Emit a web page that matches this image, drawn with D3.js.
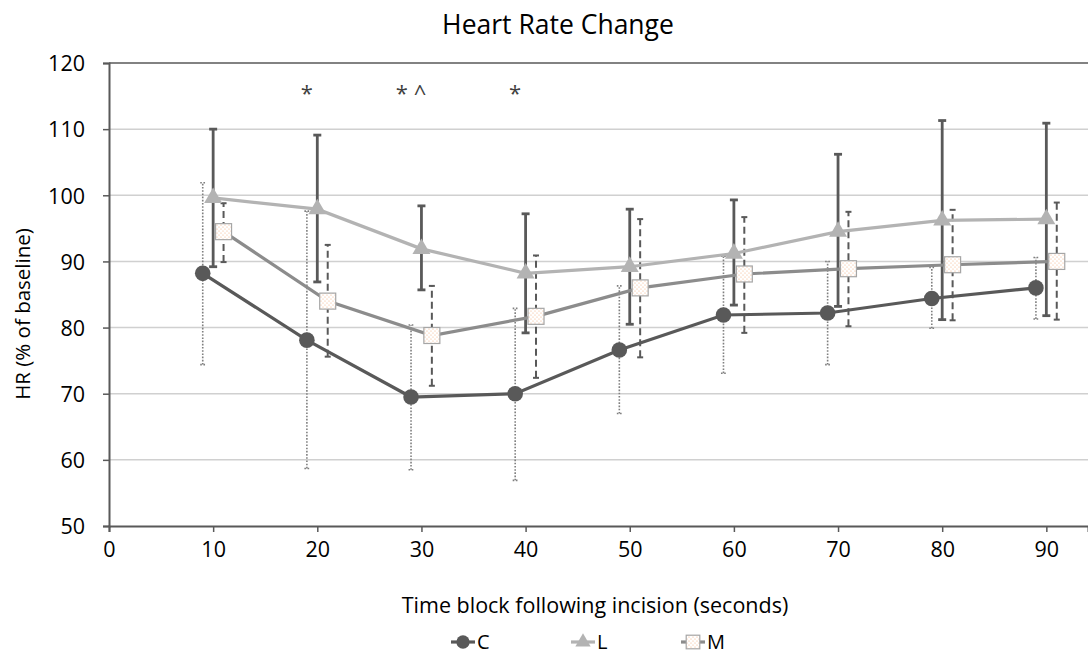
<!DOCTYPE html>
<html>
<head>
<meta charset="utf-8">
<script src="https://cdn.jsdelivr.net/npm/d3@7"></script>
<style>
  html, body { margin: 0; padding: 0; background: #fff; }
  svg { display: block; font-family: "Open Sans", "Noto Sans", sans-serif; }
</style>
</head>
<body>
<svg id="chart" width="1088" height="657"></svg>
<script>
// time blocks (seconds)
const blocks = [10, 20, 30, 40, 50, 60, 70, 80, 90];

// C group
const cMean = [88.2, 78.1, 69.5, 70.0, 76.6, 81.9, 82.2, 84.4, 86.0];
const cHigh = [101.9, 97.6, 80.4, 82.9, 86.3, 90.8, 90.0, 89.1, 90.6];
const cLow  = [74.4, 58.7, 58.5, 56.9, 67.0, 73.1, 74.4, 79.9, 81.3];

// L group
const lMean = [99.6, 97.9, 91.9, 88.2, 89.2, 91.2, 94.5, 96.2, 96.4];
const lHigh = [110.0, 109.1, 98.4, 97.2, 97.9, 99.3, 106.2, 111.3, 110.9];
const lLow  = [89.2, 86.9, 85.7, 79.2, 80.5, 83.4, 83.2, 81.2, 81.8];

// M group
const mMean = [94.5, 84.0, 78.8, 81.7, 86.0, 88.1, 88.9, 89.5, 90.0];
const mHigh = [98.8, 92.5, 86.3, 90.9, 96.4, 96.7, 97.5, 97.8, 98.9];
const mLow  = [89.9, 75.6, 71.2, 72.4, 75.5, 79.2, 80.2, 81.1, 81.2];

const xTicks = [0, 10, 20, 30, 40, 50, 60, 70, 80, 90];
const yTicks = [50, 60, 70, 80, 90, 100, 110, 120];

// significance marks above the blocks
const marks = [
  { x: 20, text: "*" },
  { x: 30, text: "* ^" },
  { x: 40, text: "*" }
];

const svg = d3.select("#chart");

const x = d3.scaleLinear().domain([0, 94]).range([109, 1088]);
const y = d3.scaleLinear().domain([50, 120]).range([526, 63]);

// dotted fill for the M squares
const defs = svg.append("defs");
const pat = defs.append("pattern")
  .attr("id", "dots")
  .attr("width", 4).attr("height", 4)
  .attr("patternUnits", "userSpaceOnUse");
pat.append("rect").attr("width", 4).attr("height", 4).attr("fill", "#fff");
pat.append("circle").attr("cx", 1).attr("cy", 1).attr("r", 0.6).attr("fill", "#f4b183");
pat.append("circle").attr("cx", 3).attr("cy", 3).attr("r", 0.6).attr("fill", "#f4b183");

// gridlines
svg.append("g")
  .selectAll("line")
  .data(yTicks.filter(d => d > 50 && d < 120))
  .join("line")
  .attr("x1", x(0)).attr("x2", 1088)
  .attr("y1", d => y(d)).attr("y2", d => y(d))
  .attr("stroke", "#d0d0d0").attr("stroke-width", 1.5);

// top border
svg.append("line")
  .attr("x1", x(0)).attr("x2", 1088)
  .attr("y1", y(120)).attr("y2", y(120))
  .attr("stroke", "#595959").attr("stroke-width", 1.5);

// axes
const xAxis = svg.append("g")
  .attr("transform", `translate(0,${y(50)})`)
  .call(d3.axisBottom(x).tickValues(xTicks).tickSize(6).tickPadding(10).tickFormat(d3.format("d")));
const yAxis = svg.append("g")
  .attr("transform", `translate(${x(0)},0)`)
  .call(d3.axisLeft(y).tickValues(yTicks).tickSize(6).tickPadding(18).tickFormat(d3.format("d")));

[xAxis, yAxis].forEach(g => {
  g.select(".domain").attr("stroke", "#595959").attr("stroke-width", 2);
  g.selectAll(".tick line").attr("stroke", "#595959").attr("stroke-width", 1.5);
  g.selectAll("text").attr("font-size", 21.5).attr("fill", "#000")
    .attr("font-family", "'Open Sans', sans-serif");
});
yAxis.selectAll("text").attr("dy", "0.36em");

const series = [
  { name: "C", mean: cMean, high: cHigh, low: cLow, dx: -1,
    line: "#595959", bar: "#7f7f7f", barWidth: 1.6, dash: "1.6,1.6", cap: 5 },
  { name: "L", mean: lMean, high: lHigh, low: lLow, dx: 0,
    line: "#b3b3b3", bar: "#595959", barWidth: 2.8, dash: null, cap: 8 },
  { name: "M", mean: mMean, high: mHigh, low: mLow, dx: 1,
    line: "#8c8c8c", bar: "#595959", barWidth: 2, dash: "7,4", cap: 6 }
];

// error bars
series.forEach(s => {
  const g = svg.append("g");
  blocks.forEach((b, i) => {
    const cx = x(b + s.dx);
    g.append("line")
      .attr("x1", cx).attr("x2", cx)
      .attr("y1", y(s.low[i])).attr("y2", y(s.high[i]))
      .attr("stroke", s.bar).attr("stroke-width", s.barWidth)
      .attr("stroke-dasharray", s.dash);
    [s.low[i], s.high[i]].forEach(v => {
      g.append("line")
        .attr("x1", cx - s.cap / 2).attr("x2", cx + s.cap / 2)
        .attr("y1", y(v)).attr("y2", y(v))
        .attr("stroke", s.bar).attr("stroke-width", s.barWidth)
        .attr("stroke-dasharray", s.name === "C" ? "1.6,1.6" : null);
    });
  });
});

// lines
const lineGen = (s) => d3.line()
  .x((d, i) => x(blocks[i] + s.dx))
  .y(d => y(d));

series.forEach(s => {
  svg.append("path")
    .datum(s.mean)
    .attr("d", lineGen(s))
    .attr("fill", "none")
    .attr("stroke", s.line)
    .attr("stroke-width", 3.2);
});

// markers
function drawMarker(g, name, cx, cy, scale) {
  if (name === "C") {
    g.append("circle").attr("cx", cx).attr("cy", cy).attr("r", 7.8 * scale)
      .attr("fill", "#595959");
  } else if (name === "L") {
    g.append("path")
      .attr("d", d3.symbol(d3.symbolTriangle, 140 * scale * scale)())
      .attr("transform", `translate(${cx},${cy})`)
      .attr("fill", "#b3b3b3");
  } else {
    const h = 8 * scale;
    g.append("rect").attr("x", cx - h).attr("y", cy - h)
      .attr("width", 2 * h).attr("height", 2 * h)
      .attr("fill", "url(#dots)").attr("stroke", "#a6a6a6").attr("stroke-width", 1.2);
  }
}

series.forEach(s => {
  const g = svg.append("g");
  s.mean.forEach((v, i) => drawMarker(g, s.name, x(blocks[i] + s.dx), y(v), 1));
});

// significance marks
svg.append("g")
  .selectAll("text")
  .data(marks)
  .join("text")
  .attr("x", d => x(d.x - 1))
  .attr("y", 101)
  .attr("text-anchor", "middle")
  .attr("font-size", 22)
  .attr("fill", "#404040")
  .text(d => d.text);

// title
svg.append("text")
  .attr("x", 558).attr("y", 34)
  .attr("text-anchor", "middle")
  .attr("font-size", 26.5)
  .attr("fill", "#000")
  .text("Heart Rate Change");

// axis titles
svg.append("text")
  .attr("x", 595).attr("y", 613)
  .attr("text-anchor", "middle")
  .attr("font-size", 21.5)
  .attr("fill", "#000")
  .text("Time block following incision (seconds)");

svg.append("text")
  .attr("transform", "translate(30,314) rotate(-90)")
  .attr("text-anchor", "middle")
  .attr("font-size", 20.5)
  .attr("fill", "#000")
  .text("HR (% of baseline)");

// legend
const legendX = [463, 583, 693];
const legend = svg.append("g");
series.forEach((s, i) => {
  const cx = legendX[i];
  const cy = 642;
  legend.append("line")
    .attr("x1", cx - 12).attr("x2", cx + 12)
    .attr("y1", cy).attr("y2", cy)
    .attr("stroke", s.line).attr("stroke-width", 3.2);
  drawMarker(legend, s.name, cx, cy, 0.85);
  legend.append("text")
    .attr("x", cx + 14).attr("y", cy)
    .attr("dy", "0.34em")
    .attr("font-size", 20)
    .attr("fill", "#000")
    .text(s.name);
});
</script>
</body>
</html>
